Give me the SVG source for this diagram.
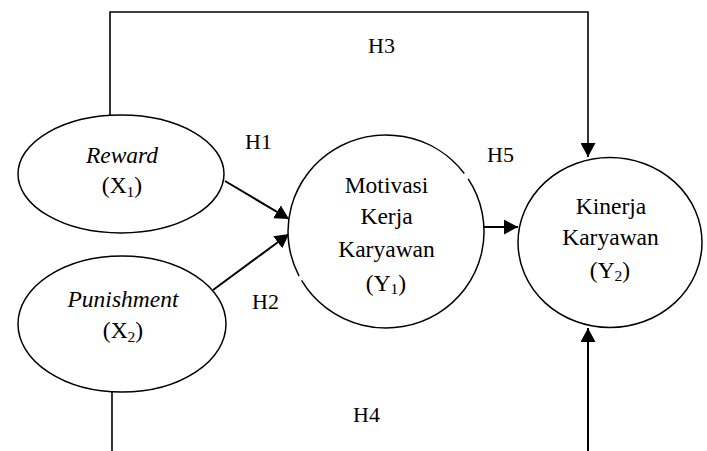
<svg xmlns="http://www.w3.org/2000/svg" width="707" height="451" viewBox="0 0 707 451" font-family="'Liberation Serif', 'DejaVu Serif', serif">
<style>
.node{fill:#fff;stroke:#000;stroke-width:1.5}
.t{font-family:'Liberation Serif','DejaVu Serif',serif;font-size:23.5px;fill:#000;text-anchor:middle}
.i{font-style:italic}
.lbl{font-family:'Liberation Serif','DejaVu Serif',serif;font-size:22px;fill:#000}
.ln{fill:none;stroke:#000;stroke-width:1.6}
.ar{fill:none;stroke:#000;stroke-width:2;marker-end:url(#ah)}
.sub{font-size:15.5px}
</style>
<defs>
<marker id="ah" markerUnits="userSpaceOnUse" markerWidth="15" markerHeight="15" refX="14" refY="7.5" orient="auto">
<path d="M0,0 L14,7.5 L0,15 Z" fill="#000"/>
</marker>
</defs>
<rect width="707" height="451" fill="#fff"/>
<g id="connectors">
<polyline class="ln" points="110,115 110,12 588,12 588,143"/>
<line class="ar" x1="588" y1="143" x2="588" y2="157"/>
<line class="ln" x1="112" y1="392" x2="112" y2="451"/>
<line class="ar" x1="588" y1="451" x2="588" y2="328"/>
<line class="ar" x1="225" y1="181" x2="289" y2="219"/>
<line class="ar" x1="213" y1="290" x2="289" y2="234"/>
<line class="ar" x1="484" y1="227" x2="518" y2="227"/>
</g>
<g id="labels">
<text class="lbl" x="245" y="149">H1</text>
<text class="lbl" x="252" y="309">H2</text>
<text class="lbl" x="368" y="53">H3</text>
<text class="lbl" x="353" y="422">H4</text>
<text class="lbl" x="487" y="162">H5</text>
</g>
<g id="reward">
<ellipse class="node" cx="121" cy="174" rx="103" ry="59"/>
<text class="t i" x="122" y="163">Reward</text>
<text class="t" x="122" y="193">(X<tspan class="sub" dy="4">1</tspan><tspan dy="-4">)</tspan></text>
</g>
<g id="punishment">
<ellipse class="node" cx="122" cy="324" rx="104" ry="68"/>
<text class="t i" x="123" y="307">Punishment</text>
<text class="t" x="123" y="338">(X<tspan class="sub" dy="4">2</tspan><tspan dy="-4">)</tspan></text>
</g>
<g id="motivasi">
<ellipse cx="386" cy="231.5" rx="98" ry="96.5" fill="#fff"/>
<path d="M468.19,178.94 A98,96.5 0 1 1 301.56,280.47 M299.07,276.05 A98,96.5 0 0 1 464.26,173.42" fill="none" stroke="#000" stroke-width="1.5"/>
<text class="t" x="386.5" y="193">Motivasi</text>
<text class="t" x="386.5" y="224">Kerja</text>
<text class="t" x="386.5" y="257">Karyawan</text>
<text class="t" x="386" y="291">(Y<tspan class="sub" dy="3">1</tspan><tspan dy="-3">)</tspan></text>
</g>
<g id="kinerja">
<ellipse class="node" cx="610" cy="242.5" rx="92" ry="85"/>
<text class="t" x="611" y="214">Kinerja</text>
<text class="t" x="610.5" y="245">Karyawan</text>
<text class="t" x="610" y="278">(Y<tspan class="sub" dy="3">2</tspan><tspan dy="-3">)</tspan></text>
</g>
</svg>
